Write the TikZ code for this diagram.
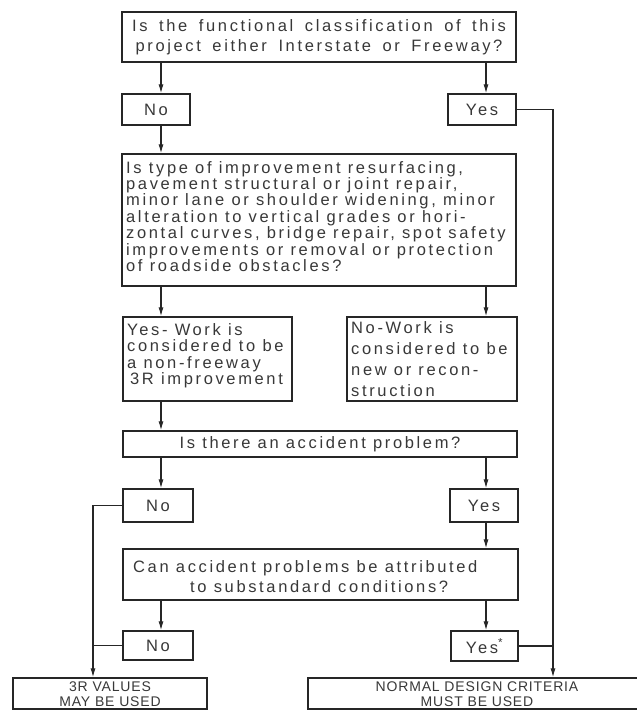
\documentclass[tikz,border=0pt]{standalone}
\usepackage{fontspec}
\setmainfont{Liberation Sans}[LetterSpace=16]
\newfontfamily\widefont{Liberation Sans}[LetterSpace=16, WordSpace=1.6]
\newfontfamily\capsfont{Liberation Sans}[LetterSpace=6]
\usetikzlibrary{arrows.meta,calc}
\begin{document}
\begin{tikzpicture}[x=1pt,y=-1pt,
  box/.style={draw=black!85, line width=1.3pt, rectangle, inner sep=0pt, text=black!78},
  txt/.style={inner sep=0pt, text=black!78, align=left},
  conn/.style={draw=black!85, line width=1.2pt},
  arr/.style={conn, -{Latex[length=9pt,width=5pt]}},
  every node/.style={font=\fontsize{16.5}{20}\selectfont}
]
\useasboundingbox (0,0) rectangle (637,710);
\fill[white] (0,0) rectangle (637,710);

% column coordinates
\coordinate (colL) at (161,0);
\coordinate (colR) at (486,0);
\coordinate (trunk) at (553,0);
\coordinate (rail) at (93,0);

% boxes
\node[box, minimum width=394pt, minimum height=50pt, align=center,
      font=\widefont\fontsize{16.5}{20}\selectfont] (top) at (319,37)
  {Is the functional classification of this\\ project either Interstate or Freeway?};
\node[box, minimum width=68pt, minimum height=31pt] (no1) at (156,109.5) {No};
\node[box, minimum width=68pt, minimum height=31pt] (yes1) at (482,109.5) {Yes};

\node[box, minimum width=394pt, minimum height=132pt] (q2) at (319,220) {};
\node[txt, anchor=north west, font=\fontsize{16.5}{15}\selectfont] (q2t) at (126,161)
  {Is type of improvement resurfacing,\\
   pavement structural or joint repair,\\
   minor lane or shoulder widening, minor\\
   alteration to vertical grades or hori-\\
   zontal curves, bridge repair, spot safety\\
   improvements or removal or protection\\
   of roadside obstacles?};

\node[box, minimum width=169pt, minimum height=84pt] (yw) at (207.5,359) {};
\node[txt, anchor=north west, font=\fontsize{16.5}{16.5}\selectfont] (ywt) at (127,323)
  {Yes- Work is\\ considered to be\\ a non-freeway\\ \hspace*{3pt}3R improvement};
\node[box, minimum width=170pt, minimum height=84pt] (nw) at (432,359) {};
\node[txt, anchor=north west, font=\fontsize{16.5}{21}\selectfont] (nwt) at (351,321)
  {No-Work is\\ considered to be\\ new or recon-\\ struction};

\node[box, minimum width=394pt, minimum height=26pt] (acc) at (320,444)
  {Is there an accident problem?};
\node[box, minimum width=70pt, minimum height=33pt] (no2) at (158,505.5) {No};
\node[box, minimum width=68pt, minimum height=33pt] (yes2) at (484,505.5) {Yes};

\node[box, minimum width=395pt, minimum height=51pt] (can) at (320.5,574.5) {};
\node[txt, anchor=north west] (cant) at (133,560)
  {Can accident problems be attributed\\ \hspace*{57pt}to substandard conditions?};

\node[box, minimum width=70pt, minimum height=29pt] (no3) at (158,645.5) {No};
\node[box, minimum width=67pt, minimum height=30pt] (yes3) at (484.5,646) {Yes\textsuperscript{*}};

\node[box, minimum width=194pt, minimum height=31pt] (f1) at (110,693.5) {};
\node[box, minimum width=342pt, minimum height=31pt] (f2) at (479,693.5) {};
\node[txt, align=center, font=\capsfont\fontsize{14}{15}\selectfont] (f1t) at (110,694)
  {3R VALUES\\ MAY BE USED};
\node[txt, align=center, font=\capsfont\fontsize{14}{15}\selectfont] (f2t) at (477,694)
  {NORMAL DESIGN CRITERIA\\ MUST BE USED};

% connectors
\draw[arr] (top.south -| colL) -- (no1.north -| colL);
\draw[arr] (top.south -| colR) -- (yes1.north -| colR);
\draw[arr] (no1.south -| colL) -- (q2.north -| colL);
\draw[arr] (yes1.east) -- (yes1.east -| trunk) -- (f2.north -| trunk);
\draw[arr] (q2.south -| colL) -- (yw.north -| colL);
\draw[arr] (q2.south -| colR) -- (nw.north -| colR);
\draw[conn] ($(nw.north east)+(0,15)$) -- ($(nw.north east)+(0,15)$ -| trunk);
\draw[arr] (yw.south -| colL) -- (acc.north -| colL);
\draw[arr] (acc.south -| colL) -- (no2.north -| colL);
\draw[arr] (acc.south -| colR) -- (yes2.north -| colR);
\draw[arr] (yes2.south -| colR) -- (can.north -| colR);
\draw[arr] (no2.west) -- (no2.west -| rail) -- (f1.north -| rail);
\draw[arr] (can.south -| colL) -- (no3.north -| colL);
\draw[arr] (can.south -| colR) -- (yes3.north -| colR);
\draw[conn] (no3.west) -- (no3.west -| rail);
\draw[conn] (yes3.east) -- (yes3.east -| trunk);
\end{tikzpicture}
\end{document}
